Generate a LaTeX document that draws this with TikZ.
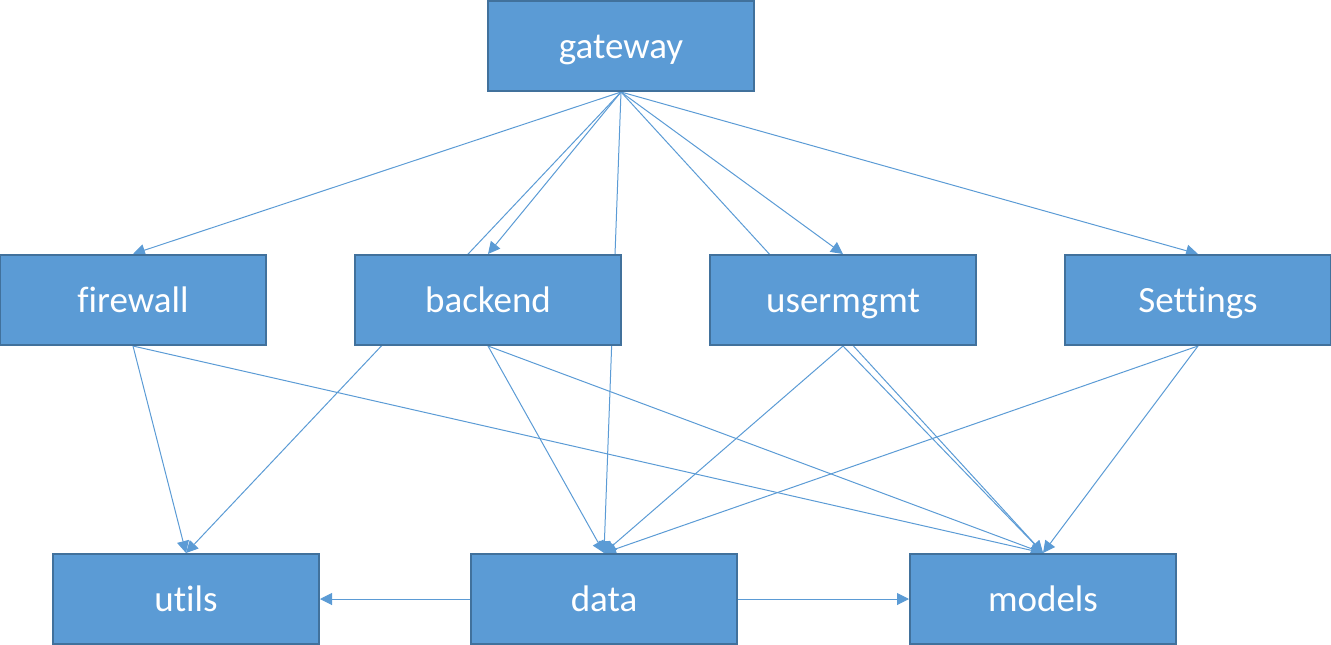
\documentclass[tikz,border=0pt]{standalone}
\usepackage{fontspec}
\setmainfont[Ligatures=NoCommon]{Carlito}
\usepackage{tikz}
\usetikzlibrary{arrows.meta,positioning,backgrounds}
\definecolor{boxblue}{HTML}{5B9BD5}
\definecolor{boxedge}{HTML}{41719C}
\tikzstyle{pkg} = [rectangle, draw=boxedge, line width=2pt, fill=boxblue, text=white,
  minimum width=266pt, minimum height=90pt, inner sep=0pt, text height=25pt, text depth=0pt,
  font=\fontsize{37}{44}\selectfont]
\tikzstyle{dep} = [draw=boxblue, line width=1pt, -{Triangle[length=12pt,width=12pt]}]

\begin{document}
\begin{tikzpicture}[x=1pt,y=-1pt,node distance=87pt]
  \useasboundingbox (0,0) rectangle (1331,645);
  \node[pkg] (gateway) at (621,46) {gateway};
  \node[pkg] (firewall) at (133,300) {firewall};
  \node[pkg] (backend) [right=of firewall] {backend};
  \node[pkg] (usermgmt) [right=of backend] {usermgmt};
  \node[pkg] (Settings) [right=of usermgmt] {Settings};
  \node[pkg] (utils) at (186,599) {utils};
  \node[pkg] (data) at (604,599) {data};
  \node[pkg] (models) at (1043,599) {models};

  \begin{scope}[on background layer]
    \foreach \to in {firewall,backend,usermgmt,Settings,utils,data,models}
      \path[dep] (gateway.south) -- (\to.north);
    \foreach \to in {utils,models}
      \path[dep] (firewall.south) -- (\to.north);
    \foreach \from in {backend,usermgmt,Settings} {
      \path[dep] (\from.south) -- (data.north);
      \path[dep] (\from.south) -- (models.north);
    }
  \end{scope}
  \path[dep] (data.west) -- (utils.east);
  \path[dep] (data.east) -- (models.west);
\end{tikzpicture}
\end{document}
